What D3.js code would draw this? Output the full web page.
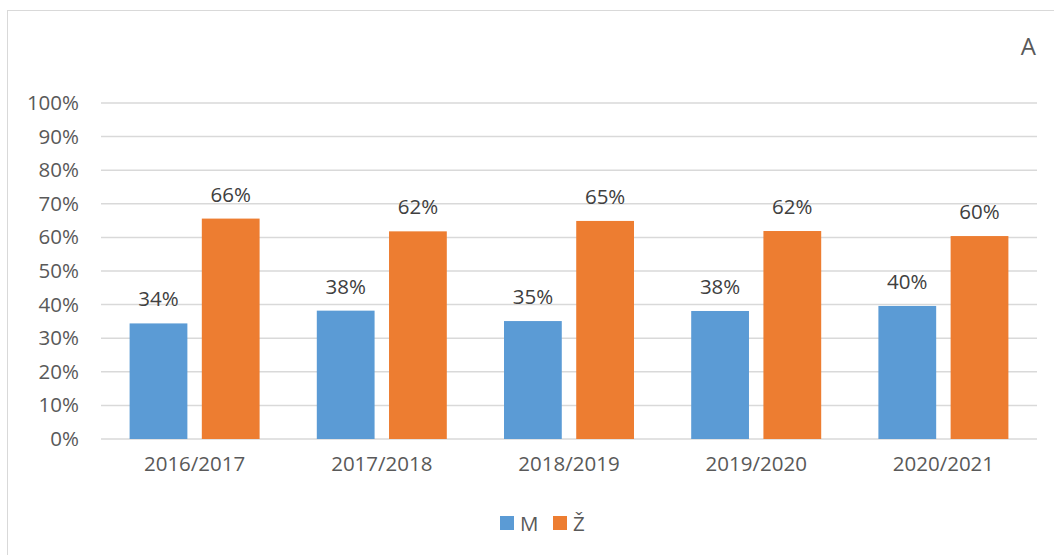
<!DOCTYPE html>
<html>
<head>
<meta charset="utf-8">
<script src="https://cdn.jsdelivr.net/npm/d3@7"></script>
<style>
  body { margin: 0; background: #fff; }
  text { font-family: "Open Sans", "Liberation Sans", sans-serif; }
</style>
</head>
<body>
<div id="chart"></div>
<script>
var years = ["2016/2017", "2017/2018", "2018/2019", "2019/2020", "2020/2021"];
var valuesM = [34.4, 38.2, 35.1, 38.1, 39.6];
var valuesZ = [65.6, 61.8, 64.9, 61.9, 60.4];
var seriesNames = ["M", "Ž"];
var yTicks = [0, 10, 20, 30, 40, 50, 60, 70, 80, 90, 100];

var W = 1054, H = 555;
var margin = {top: 103, right: 17, bottom: 116, left: 101},
    width = W - margin.left - margin.right,
    height = H - margin.top - margin.bottom;

var colors = {"M": "#5b9bd5", "Ž": "#ed7d31"};
var fs = 20.5;

var svg = d3.select("#chart").append("svg")
    .attr("width", W)
    .attr("height", H);

// outer frame
svg.append("rect")
    .attr("x", 7.5).attr("y", 10.5)
    .attr("width", W - 7).attr("height", H)
    .attr("fill", "none")
    .attr("stroke", "#d9d9d9");

svg.append("text")
    .attr("x", 1036).attr("y", 55)
    .attr("text-anchor", "end")
    .attr("font-size", 24)
    .attr("fill", "#595959")
    .text("A");

var g = svg.append("g")
    .attr("transform", "translate(" + margin.left + "," + margin.top + ")");

var x = d3.scaleBand().domain(years).range([0, width]).paddingInner(0).paddingOuter(0);
var x1 = d3.scaleBand().domain(seriesNames).range([0, 130]).paddingInner(0.2);
var y = d3.scaleLinear().domain([0, 100]).range([height, 0]);

// gridlines
g.selectAll("line.grid")
    .data(yTicks)
    .enter().append("line")
    .attr("class", "grid")
    .attr("x1", 0).attr("x2", width)
    .attr("y1", function(d) { return y(d); })
    .attr("y2", function(d) { return y(d); })
    .attr("stroke", "#d9d9d9")
    .attr("stroke-width", 1.5);

var yAxis = g.append("g")
    .call(d3.axisLeft(y).tickValues(yTicks).tickSize(0).tickPadding(22)
        .tickFormat(function(d) { return d + "%"; }));
yAxis.select(".domain").remove();
yAxis.selectAll("text").attr("font-size", fs).attr("fill", "#595959")
    .style("font-family", "'Open Sans', sans-serif");

var xAxis = g.append("g")
    .attr("transform", "translate(0," + height + ")")
    .call(d3.axisBottom(x).tickSize(0).tickPadding(17));
xAxis.select(".domain").remove();
xAxis.selectAll("text").attr("font-size", fs).attr("fill", "#595959")
    .style("font-family", "'Open Sans', sans-serif");

var rows = years.map(function(yr, i) {
    return {year: yr, vals: [{s: "M", v: valuesM[i]}, {s: "Ž", v: valuesZ[i]}]};
});

var groups = g.selectAll("g.cat")
    .data(rows)
    .enter().append("g")
    .attr("class", "cat")
    .attr("transform", function(d) {
        return "translate(" + (x(d.year) + (x.bandwidth() - 130) / 2) + ",0)";
    });

groups.selectAll("rect")
    .data(function(d) { return d.vals; })
    .enter().append("rect")
    .attr("x", function(d) { return x1(d.s); })
    .attr("y", function(d) { return y(d.v); })
    .attr("width", x1.bandwidth())
    .attr("height", function(d) { return height - y(d.v); })
    .attr("fill", function(d) { return colors[d.s]; });

groups.selectAll("text.lbl")
    .data(function(d) { return d.vals; })
    .enter().append("text")
    .attr("class", "lbl")
    .attr("x", function(d) { return x1(d.s) + x1.bandwidth() / 2; })
    .attr("y", function(d) { return y(d.v) - 17; })
    .attr("text-anchor", "middle")
    .attr("font-size", fs)
    .attr("fill", "#404040")
    .text(function(d) { return Math.round(d.v) + "%"; });

// legend
var legend = svg.append("g").attr("transform", "translate(500,516)");
var items = legend.selectAll("g")
    .data(seriesNames)
    .enter().append("g")
    .attr("transform", function(d, i) { return "translate(" + (i * 53) + ",0)"; });
items.append("rect")
    .attr("width", 14).attr("height", 14)
    .attr("fill", function(d) { return colors[d]; });
items.append("text")
    .attr("x", 20).attr("y", 15)
    .attr("font-size", fs)
    .attr("fill", "#595959")
    .text(function(d) { return d; });
</script>
</body>
</html>
